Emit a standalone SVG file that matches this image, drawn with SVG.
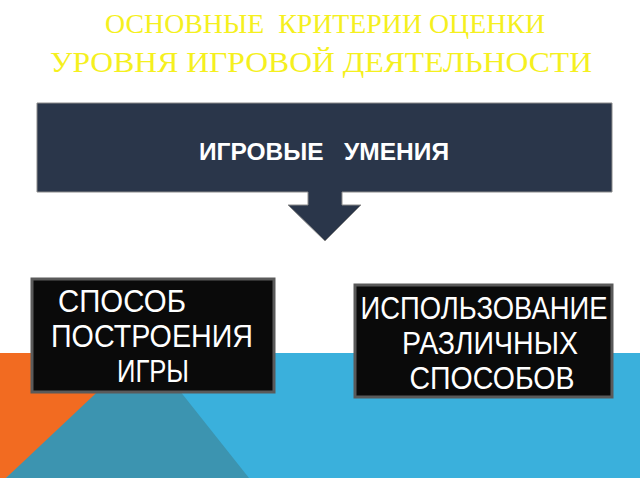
<svg xmlns="http://www.w3.org/2000/svg" width="640" height="480" viewBox="0 0 640 480">
<style>
.t{font-family:"Liberation Serif",serif;fill:#F5F01E;text-anchor:middle}
.b{fill:#0a0a0a;stroke:#5a5a5a;stroke-width:3}
.w{font-family:"Liberation Sans",Arial,sans-serif;fill:#fff;text-anchor:middle;font-size:31px}
</style>
<rect width="640" height="480" fill="#fff"/>
<g id="background">
<rect x="0" y="353" width="640" height="125" fill="#3AB0DC"/>
<polygon points="0,353 149,353 6,478 0,478" fill="#F26B21"/>
<polygon points="145,347 6,478 249,478" fill="#3C94B0"/>
</g>
<g id="title">
<text class="t" x="325" y="33" font-size="27" textLength="440" lengthAdjust="spacingAndGlyphs" xml:space="preserve">ОСНОВНЫЕ  КРИТЕРИИ ОЦЕНКИ</text>
<text class="t" x="321" y="72" font-size="30" textLength="542" lengthAdjust="spacingAndGlyphs">УРОВНЯ ИГРОВОЙ ДЕЯТЕЛЬНОСТИ</text>
</g>
<g id="main">
<path d="M37,103 H612 V192 H342 V205 H361 L325,241 L288,205 H308 V192 H37 Z" fill="#2A364A" stroke="#8a8a8a" stroke-width="1"/>
<text x="324" y="160" font-family="Liberation Sans,Arial,sans-serif" font-weight="bold" font-size="23" fill="#fff" text-anchor="middle" textLength="250" lengthAdjust="spacingAndGlyphs" xml:space="preserve">ИГРОВЫЕ   УМЕНИЯ</text>
</g>
<g id="left">
<rect class="b" x="32" y="279" width="242" height="113"/>
<text class="w" x="122" y="312" textLength="128" lengthAdjust="spacingAndGlyphs">СПОСОБ</text>
<text class="w" x="152" y="347" textLength="202" lengthAdjust="spacingAndGlyphs">ПОСТРОЕНИЯ</text>
<text class="w" x="153" y="382" textLength="72" lengthAdjust="spacingAndGlyphs">ИГРЫ</text>
</g>
<g id="right">
<rect class="b" x="355" y="285" width="257" height="112"/>
<text class="w" x="484" y="319" textLength="247" lengthAdjust="spacingAndGlyphs">ИСПОЛЬЗОВАНИЕ</text>
<text class="w" x="490" y="354" textLength="176" lengthAdjust="spacingAndGlyphs">РАЗЛИЧНЫХ</text>
<text class="w" x="492" y="389" textLength="165" lengthAdjust="spacingAndGlyphs">СПОСОБОВ</text>
</g>
<g id="connectors"></g>
</svg>
